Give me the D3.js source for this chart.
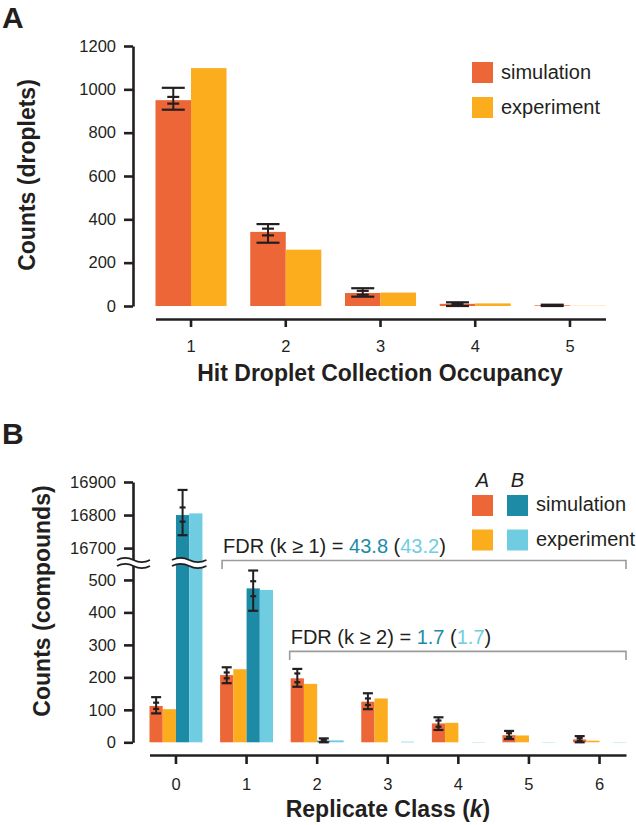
<!DOCTYPE html>
<html><head><meta charset="utf-8">
<script src="https://cdn.jsdelivr.net/npm/d3@7"></script>
<style>
body{margin:0;background:#fff;}
svg text{font-family:"Liberation Sans", Arial, Helvetica, sans-serif;fill:#231f20;}
</style></head><body>
<svg id="chart" width="636" height="825"></svg>
<script>
// ---------- Panel A data ----------
const occupancy = ["1","2","3","4","5"];
const simA      = [950, 342, 60, 10, 3];
const expA      = [1098, 260, 62, 12, 1];
const simAErrLo = [906, 292, 43, 0, 0];
const simAErrHi = [1007, 378, 82, 17, 6];
const simAInLo  = [934, 326, 52, 5, 1];
const simAInHi  = [965, 357, 70, 14, 4];
const yTicksA   = [0, 200, 400, 600, 800, 1000, 1200];

// ---------- Panel B data ----------
const replicate = ["0","1","2","3","4","5","6"];
const simBA     = [112, 207, 197, 125, 58, 22, 9];
const expBA     = [102, 225, 180, 135, 60, 21, 5];
const simBB     = [16800, 474, 5, 0, 0, 0, 0];
const expBB     = [16805, 469, 6, 2, 1, 1, 1];
const errA_lo   = [89, 182, 171, 102, 38, 10, 0];
const errA_hi   = [139, 231, 226, 151, 77, 35, 19];
const errA_ilo  = [103, 197, 185, 115, 48, 16, 5];
const errA_ihi  = [122, 215, 212, 135, 67, 28, 13];
const errB_lo   = [16739, 405, 0, null, null, null, null];
const errB_hi   = [16876, 529, 12, null, null, null, null];
const errB_ilo  = [16780, 450, 3, null, null, null, null];
const errB_ihi  = [16823, 496, 8, null, null, null, null];
const yTicksBHigh = [16700, 16800, 16900];
const yTicksBLow  = [0, 100, 200, 300, 400, 500];
const fdr1 = {label:"FDR (k \u2265 1) = ", sim:"43.8", exp:"43.2"};
const fdr2 = {label:"FDR (k \u2265 2) = ", sim:"1.7", exp:"1.7"};

const INK = "#231f20";
const C_ASIM = "#ec6638", C_AEXP = "#fbad1d", C_BSIM = "#1d8ba6", C_BEXP = "#70cde1";
const GRAY = "#9b9b9b";

const svg = d3.select("#chart");

function styleAxis(g, fs){
  g.select(".domain").attr("stroke", INK).attr("stroke-width", 2.6);
  g.selectAll(".tick line").attr("stroke", INK).attr("stroke-width", 2.6);
  g.selectAll(".tick text").attr("font-size", fs).attr("fill", INK)
    .attr("font-family", "Liberation Sans, Arial, sans-serif");
}
function errBar(g, cx, lo, hi, ilo, ihi, capW, inW, yf){
  g.append("line").attr("x1", cx).attr("x2", cx).attr("y1", yf(lo)).attr("y2", yf(hi))
    .attr("stroke", INK).attr("stroke-width", 2);
  [[lo, capW],[hi, capW],[ilo, inW],[ihi, inW]].forEach(([v,w])=>{
    g.append("line").attr("x1", cx - w/2).attr("x2", cx + w/2).attr("y1", yf(v)).attr("y2", yf(v))
      .attr("stroke", INK).attr("stroke-width", 2.2);
  });
}

// ================= Panel A =================
const gA = svg.append("g");
gA.append("text").text("A").attr("x", 2).attr("y", 28).attr("font-size", 30).attr("font-weight", "bold");

const xA = d3.scaleBand().domain(occupancy).range([155.5, 605.5]).paddingInner(0.25).paddingOuter(0);
const xA2 = d3.scaleBand().domain(["sim","exp"]).range([0, xA.bandwidth()]);
const yA = d3.scaleLinear().domain([0, 1200]).range([306, 46]);

const rowsA = occupancy.map((k,i)=>({k, vals:[{key:"sim", v:simA[i], c:C_ASIM},{key:"exp", v:expA[i], c:C_AEXP}]}));
const grpA = gA.selectAll("g.grp").data(rowsA).join("g").attr("class","grp")
  .attr("transform", d=>`translate(${xA(d.k)},0)`);
grpA.selectAll("rect").data(d=>d.vals).join("rect")
  .attr("x", d=>xA2(d.key)).attr("width", xA2.bandwidth())
  .attr("y", d=>yA(d.v)).attr("height", d=>yA(0)-yA(d.v)).attr("fill", d=>d.c);
occupancy.forEach((k,i)=>{
  errBar(gA, xA(k) + xA2("sim") + xA2.bandwidth()/2, simAErrLo[i], simAErrHi[i], simAInLo[i], simAInHi[i], 23, 12, yA);
});

const axYA = gA.append("g").attr("transform","translate(133,0)")
  .call(d3.axisLeft(yA).tickValues(yTicksA).tickSize(9).tickSizeOuter(0).tickPadding(8).tickFormat(d3.format("d")));
styleAxis(axYA, 16.5);
const axXA = gA.append("g").attr("transform","translate(0,319)")
  .call(d3.axisBottom(xA).tickSize(8).tickSizeOuter(0).tickPadding(13));
styleAxis(axXA, 16.5);

gA.append("text").attr("transform","translate(35,175) rotate(-90)").attr("text-anchor","middle")
  .attr("font-size", 23).attr("font-weight","bold").text("Counts (droplets)");
gA.append("text").attr("x", 380).attr("y", 381).attr("text-anchor","middle")
  .attr("font-size", 23).attr("font-weight","bold").text("Hit Droplet Collection Occupancy");

// legend A
[["simulation", C_ASIM],["experiment", C_AEXP]].forEach(([t,c],i)=>{
  gA.append("rect").attr("x", 472).attr("y", 62 + i*35).attr("width", 21).attr("height", 21).attr("fill", c);
  gA.append("text").attr("x", 501).attr("y", 79 + i*34.5).attr("font-size", 20).text(t);
});

// ================= Panel B =================
const gB = svg.append("g");
gB.append("text").text("B").attr("x", 2).attr("y", 444).attr("font-size", 30).attr("font-weight", "bold");

const xB = d3.scaleBand().domain(replicate).range([149.5, 626]).paddingInner(0.25).paddingOuter(0);
const subKeys = ["as","ae","bs","be"];
const xB2 = d3.scaleBand().domain(subKeys).range([0, xB.bandwidth()]);
const yLow = d3.scaleLinear().domain([0, 546]).range([742.3, 565]);
const yHigh = d3.scaleLinear().domain([16664, 16900]).range([560, 482]);
const yB = v => v > 1000 ? yHigh(v) : yLow(v);

const rowsB = replicate.map((k,i)=>({k, vals:[
  {key:"as", v:simBA[i], c:C_ASIM},{key:"ae", v:expBA[i], c:C_AEXP},
  {key:"bs", v:simBB[i], c:C_BSIM},{key:"be", v:expBB[i], c:C_BEXP}]}));
const grpB = gB.selectAll("g.grp").data(rowsB).join("g").attr("class","grp")
  .attr("transform", d=>`translate(${xB(d.k)},0)`);
grpB.selectAll("rect").data(d=>d.vals).join("rect")
  .attr("x", d=>xB2(d.key)).attr("width", xB2.bandwidth())
  .attr("y", d=>yB(d.v)).attr("height", d=>yLow(0)-yB(d.v)).attr("fill", d=>d.c);

// axis break waves
function wave(x0, x1, y, a){
  const w = x1 - x0;
  return `M${x0},${y} Q${x0+w/4},${y-2*a} ${x0+w/2},${y} T${x1},${y}`;
}
function drawBreak(x0, x1, yTop, yBot){
  const w = x1 - x0, a = 2.2;
  const fillPath = wave(x0, x1, yTop, a) + ` L${x1},${yBot} Q${x1-w/4},${yBot+2*a} ${x0+w/2},${yBot} Q${x0+w/4},${yBot-2*a} ${x0},${yBot} Z`;
  gB.append("path").attr("d", fillPath).attr("fill", "#fff");
  gB.append("path").attr("d", wave(x0, x1, yTop, a)).attr("fill","none").attr("stroke", INK).attr("stroke-width", 1.8);
  gB.append("path").attr("d", wave(x0, x1, yBot, a)).attr("fill","none").attr("stroke", INK).attr("stroke-width", 1.8);
}

replicate.forEach((k,i)=>{
  errBar(gB, xB(k) + xB2("as") + xB2.bandwidth()/2, errA_lo[i], errA_hi[i], errA_ilo[i], errA_ihi[i], 10, 6, yB);
  if (errB_lo[i] !== null)
    errBar(gB, xB(k) + xB2("bs") + xB2.bandwidth()/2, errB_lo[i], errB_hi[i], errB_ilo[i], errB_ihi[i], 10, 6, yB);
});

const axYBH = gB.append("g").attr("transform","translate(133,0)")
  .call(d3.axisLeft(yHigh).tickValues(yTicksBHigh).tickSize(9).tickSizeOuter(0).tickPadding(8).tickFormat(d3.format("d")));
styleAxis(axYBH, 16.5);
const axYBL = gB.append("g").attr("transform","translate(133,0)")
  .call(d3.axisLeft(yLow).tickValues(yTicksBLow).tickSize(9).tickSizeOuter(0).tickPadding(8).tickFormat(d3.format("d")));
styleAxis(axYBL, 16.5);
drawBreak(117, 150, 560, 566);
drawBreak(xB("0") + xB2("bs") - 4, xB("0") + xB.bandwidth() + 4, 560, 566);

const axXB = gB.append("g").attr("transform","translate(0,755)")
  .call(d3.axisBottom(xB).tickSize(9).tickSizeOuter(0).tickPadding(14));
styleAxis(axXB, 16.5);

gB.append("text").attr("transform","translate(50,601) rotate(-90)").attr("text-anchor","middle")
  .attr("font-size", 23).attr("font-weight","bold").text("Counts (compounds)");
const xt = gB.append("text").attr("x", 388).attr("y", 817).attr("text-anchor","middle")
  .attr("font-size", 23).attr("font-weight","bold");
xt.append("tspan").text("Replicate Class (");
xt.append("tspan").attr("font-style","italic").text("k");
xt.append("tspan").text(")");

// FDR brackets
function bracket(xStart, xEnd, yv, info){
  const y = yLow(yv);
  gB.append("path").attr("d", `M${xStart},${y+8.5} V${y} H${xEnd} V${y+8.5}`)
    .attr("fill","none").attr("stroke", GRAY).attr("stroke-width", 1.6);
  const t = gB.append("text").attr("x", xStart + 1).attr("y", y - 7.5).attr("font-size", 20);
  t.append("tspan").text(info.label);
  t.append("tspan").attr("fill", C_BSIM).style("fill", C_BSIM).text(info.sim);
  t.append("tspan").text(" (");
  t.append("tspan").attr("fill", C_BEXP).style("fill", C_BEXP).text(info.exp);
  t.append("tspan").text(")");
}
bracket(xB("1") + 2, xB.range()[1], 560, fdr1);
bracket(xB("2") - 1, xB.range()[1], 280, fdr2);

// legend B
const lgx = [472, 507];
gB.append("text").attr("x", lgx[0] + 10.5).attr("y", 487).attr("text-anchor","middle").attr("font-size", 20).attr("font-style","italic").text("A");
gB.append("text").attr("x", lgx[1] + 10.5).attr("y", 487).attr("text-anchor","middle").attr("font-size", 20).attr("font-style","italic").text("B");
[[C_ASIM, C_BSIM, "simulation"],[C_AEXP, C_BEXP, "experiment"]].forEach(([c1,c2,t],i)=>{
  gB.append("rect").attr("x", lgx[0]).attr("y", 495 + i*34.5).attr("width", 21).attr("height", 21).attr("fill", c1);
  gB.append("rect").attr("x", lgx[1]).attr("y", 495 + i*34.5).attr("width", 21).attr("height", 21).attr("fill", c2);
  gB.append("text").attr("x", 536).attr("y", 511 + i*34.5).attr("font-size", 20).text(t);
});
</script>
</body></html>
